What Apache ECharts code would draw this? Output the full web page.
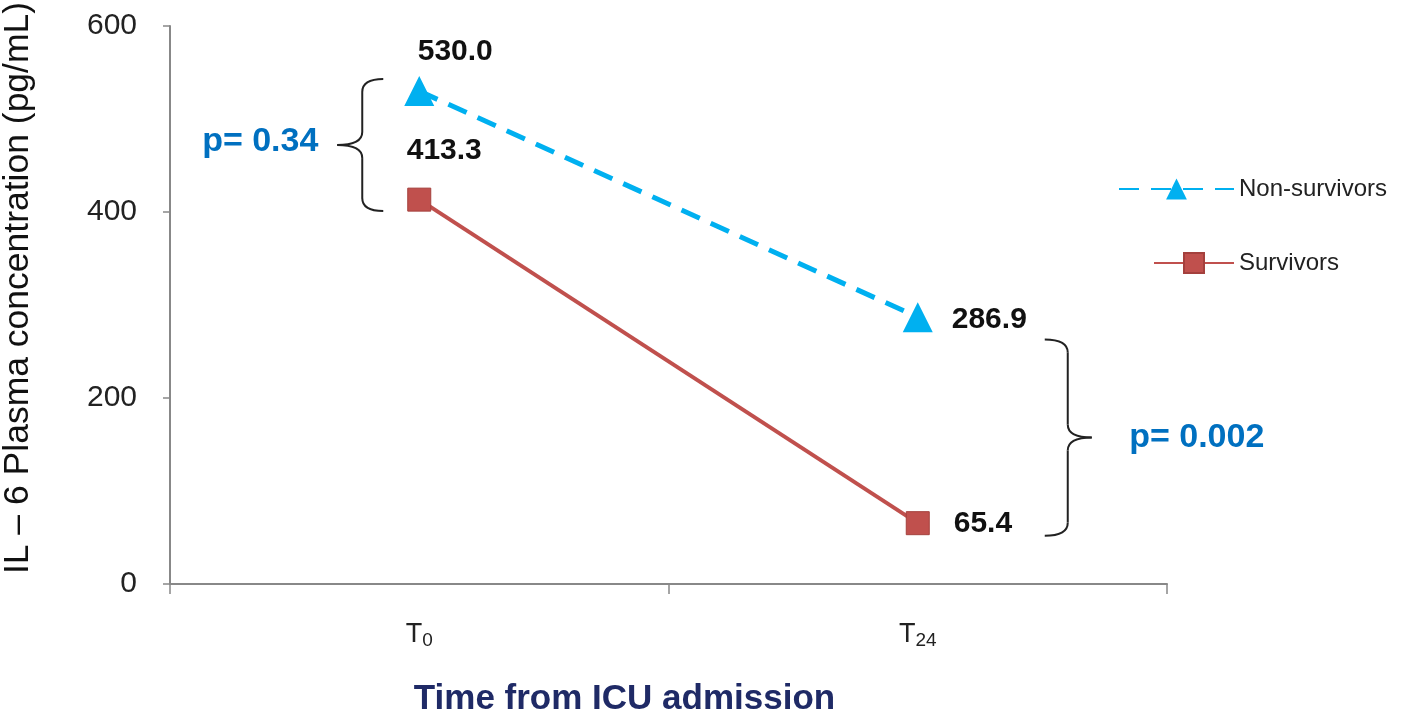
<!DOCTYPE html>
<html>
<head>
<meta charset="utf-8">
<script src="https://cdn.jsdelivr.net/npm/echarts@6/dist/echarts.min.js"></script>
<style>
html,body{margin:0;padding:0;background:#fff;}
#c{width:1418px;height:713px;}
</style>
</head>
<body>
<div id="c"></div>
<script>
const categories = ['T0', 'T24'];
const nonSurvivors = [530.0, 286.9];
const survivors = [413.3, 65.4];
const yTicks = [0, 200, 400, 600];
const pValues = ['p= 0.34', 'p= 0.002'];
const braceRanges = [[543, 401], [263, 52]];

const FONT = '"Liberation Sans", Arial, sans-serif';
const chart = echarts.init(document.getElementById('c'));

const labelBase = { show: true, color: '#111', fontWeight: 'bold', fontSize: 30, fontFamily: FONT,
  formatter: p => p.value.toFixed(1) };

function buildData(vals, firstOffset, lastOffset) {
  return vals.map((v, i) => ({
    value: v,
    label: i === 0 ? { position: 'top', offset: firstOffset } : { position: 'right', offset: lastOffset }
  }));
}

const option = {
  animation: false,
  backgroundColor: '#fff',
  grid: { left: 170, right: 251, top: 26, bottom: 129, outerBoundsMode: 'none', containLabel: false },
  legend: [
    { data: ['Non-survivors'], left: 1118, top: 177, padding: 0, orient: 'vertical', itemWidth: 115, itemHeight: 26,
      textStyle: { fontSize: 24, color: '#222', fontFamily: FONT } },
    { data: ['Survivors'], left: 1153, top: 251, padding: 0, orient: 'vertical', itemWidth: 80, itemHeight: 25,
      textStyle: { fontSize: 24, color: '#222', fontFamily: FONT } }
  ],
  xAxis: {
    type: 'category', data: categories, boundaryGap: true,
    axisLine: { lineStyle: { color: '#888', width: 2 } },
    axisTick: { show: true, length: 10, alignWithLabel: false, lineStyle: { color: '#888', width: 1.5 } },
    axisLabel: {
      margin: 35,
      formatter: v => '{t|T}{s|' + v.slice(1) + '}',
      rich: {
        t: { fontSize: 27, color: '#222', fontFamily: FONT },
        s: { fontSize: 19, color: '#222', fontFamily: FONT, padding: [12, 0, 0, 0] }
      }
    },
    name: 'Time from ICU admission', nameLocation: 'middle', nameGap: 98,
    nameTextStyle: { fontSize: 35, fontWeight: 'bold', color: '#1f2a66', fontFamily: FONT, padding: [0, 88, 0, 0] }
  },
  yAxis: {
    type: 'value', min: yTicks[0], max: yTicks[yTicks.length - 1], interval: 200,
    axisLine: { show: true, lineStyle: { color: '#888', width: 2 } },
    axisTick: { show: true, length: 7, lineStyle: { color: '#888', width: 1.5 } },
    splitLine: { show: false },
    axisLabel: { margin: 33, fontSize: 30, color: '#222', fontFamily: FONT },
    name: 'IL – 6 Plasma concentration (pg/mL)', nameLocation: 'middle', nameGap: 134,
    nameTextStyle: { fontSize: 35.5, color: '#111', fontFamily: FONT, padding: [0, 0, 0, 34] }
  },
  series: [
    {
      name: 'Non-survivors', type: 'line', data: buildData(nonSurvivors, [36, -4], [14, 3]),
      symbol: 'triangle', symbolSize: 30,
      itemStyle: { color: '#00b0f0' },
      lineStyle: { color: '#00b0f0', width: 5, type: [20, 12] },
      label: labelBase, z: 3
    },
    {
      name: 'Survivors', type: 'line', data: buildData(survivors, [25, -17], [19, 1]),
      symbol: 'rect', symbolSize: 23,
      itemStyle: { color: '#c0504d', borderColor: '#a4403d', borderWidth: 1 },
      lineStyle: { color: '#c0504d', width: 4 },
      label: labelBase, z: 2
    }
  ]
};
chart.setOption(option);

const braceStyle = { fill: null, stroke: '#222', lineWidth: 2 };
function brace(xEnd, xMid, xTip, yTop, yBot, r) {
  const ym = (yTop + yBot) / 2;
  const curves = [
    [xEnd, yTop, xMid, yTop, xMid, yTop + r],
    [xMid, ym - r, xMid, ym, xTip, ym],
    [xTip, ym, xMid, ym, xMid, ym + r],
    [xMid, yBot - r, xMid, yBot, xEnd, yBot]
  ].map(c => ({ type: 'bezierCurve', shape: { x1: c[0], y1: c[1], cpx1: c[2], cpy1: c[3], x2: c[4], y2: c[5] }, style: braceStyle }));
  const lines = [
    [xMid, yTop + r, xMid, ym - r],
    [xMid, ym + r, xMid, yBot - r]
  ].map(l => ({ type: 'line', shape: { x1: l[0], y1: l[1], x2: l[2], y2: l[3] }, style: braceStyle }));
  return curves.concat(lines);
}

const x0 = chart.convertToPixel({ xAxisIndex: 0 }, categories[0]);
const x1 = chart.convertToPixel({ xAxisIndex: 0 }, categories[1]);
const yp = v => chart.convertToPixel({ yAxisIndex: 0 }, v);
const lt = yp(braceRanges[0][0]), lb = yp(braceRanges[0][1]);
const rt = yp(braceRanges[1][0]), rb = yp(braceRanges[1][1]);

const graphics = []
  .concat(brace(x0 - 36, x0 - 57, x0 - 82, lt, lb, 13))
  .concat(brace(x1 + 127, x1 + 150, x1 + 174, rt, rb, 13))
  .concat([
    { type: 'text', x: x0 - 159, y: (lt + lb) / 2 - 3, style: { text: pValues[0], fill: '#0070c0',
      font: 'bold 34px ' + FONT, align: 'center', verticalAlign: 'middle' } },
    { type: 'text', x: x1 + 279, y: (rt + rb) / 2, style: { text: pValues[1], fill: '#0070c0',
      font: 'bold 34px ' + FONT, align: 'center', verticalAlign: 'middle' } }
  ]);
chart.setOption({ graphic: graphics });
</script>
</body>
</html>
